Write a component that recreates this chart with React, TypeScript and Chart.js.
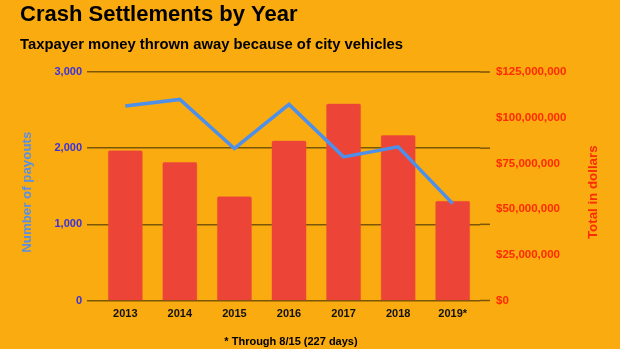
import React, { useEffect, useRef } from "react";
import { Chart, registerables } from "chart.js";

Chart.register(...registerables);

const categories = ["2013", "2014", "2015", "2016", "2017", "2018", "2019*"];
const payouts = [2553, 2640, 1996, 2575, 1886, 2018, 1272];
const dollars = [82200000, 75800000, 57000000, 87500000, 107800000, 90500000, 54500000];
const leftTicks = [0, 1000, 2000, 3000];
const rightTicks = [0, 25000000, 50000000, 75000000, 100000000, 125000000];

const titleText = "Crash Settlements by Year";
const subtitleText = "Taxpayer money thrown away because of city vehicles";
const footnoteText = "* Through 8/15 (227 days)";
const leftTitle = "Number of payouts";
const rightTitle = "Total in dollars";

const FONT = "'Liberation Sans', Arial, sans-serif";
const BG = "#F9AB10";
const GRID = "#7a5608";

const decorPlugin = {
  id: "decor",
  beforeDraw(chart: any) {
    const { ctx, width, height } = chart;
    ctx.save();
    ctx.fillStyle = BG;
    ctx.fillRect(0, 0, width, height);
    ctx.restore();
  },
  beforeDatasetsDraw(chart: any) {
    const { ctx, chartArea } = chart;
    const y = chart.scales.y;
    ctx.save();
    ctx.strokeStyle = GRID;
    ctx.lineWidth = 1.5;
    y.ticks.forEach((t: any) => {
      const py = y.getPixelForValue(t.value);
      ctx.beginPath();
      ctx.moveTo(chartArea.right, py);
      ctx.lineTo(chartArea.right + 10, py);
      ctx.stroke();
    });
    ctx.restore();
  },
  afterDraw(chart: any) {
    const { ctx, chartArea } = chart;
    const yl = chart.scales.y;
    const yr = chart.scales.y1;
    ctx.save();
    ctx.fillStyle = "#000";
    ctx.textAlign = "left";
    ctx.textBaseline = "alphabetic";
    ctx.font = `bold 22px ${FONT}`;
    ctx.fillText(titleText, 20, 21);
    ctx.font = `bold 14.8px ${FONT}`;
    ctx.fillText(subtitleText, 20, 49);
    ctx.font = `bold 11px ${FONT}`;
    ctx.textAlign = "center";
    ctx.fillText(footnoteText, (chartArea.left + chartArea.right) / 2 + 2, 345);

    const cy = (chartArea.top + chartArea.bottom) / 2 + 6;
    ctx.font = `bold 13.3px ${FONT}`;
    ctx.textBaseline = "middle";
    ctx.fillStyle = "#5b8fe3";
    ctx.save();
    ctx.translate(yl.left + 27, cy);
    ctx.rotate(-Math.PI / 2);
    ctx.fillText(leftTitle, 0, 0);
    ctx.restore();
    ctx.fillStyle = "#ff2a00";
    ctx.save();
    ctx.translate(yr.left + 113, cy);
    ctx.rotate(-Math.PI / 2);
    ctx.fillText(rightTitle, 0, 0);
    ctx.restore();
    ctx.restore();
  },
};

export default function App() {
  const ref = useRef<HTMLCanvasElement>(null);
  useEffect(() => {
    document.body.style.margin = "0";
    const chart = new Chart(ref.current!, {
      type: "bar",
      data: {
        labels: categories,
        datasets: [
          {
            type: "line",
            label: "Number of payouts",
            data: payouts,
            yAxisID: "y",
            borderColor: "#4e8fea",
            borderWidth: 3.5,
            pointRadius: 0,
            tension: 0,
            order: 0,
          } as any,
          {
            type: "bar",
            label: "Total in dollars",
            data: dollars,
            yAxisID: "y1",
            backgroundColor: "#EC4537",
            borderColor: "#f0583a",
            borderWidth: 0.5,
            borderRadius: 2,
            borderSkipped: "bottom",
            barPercentage: 0.642,
            categoryPercentage: 1,
            order: 1,
          },
        ],
      },
      options: {
        animation: false,
        responsive: false,
        maintainAspectRatio: false,
        layout: { padding: { top: 72, left: 0, right: 0, bottom: 0 } },
        plugins: {
          legend: { display: false },
          tooltip: { enabled: false },
          title: { display: false },
        },
        scales: {
          x: {
            offset: true,
            grid: { display: false, drawTicks: false },
            border: { display: false },
            ticks: {
              color: "#111",
              font: { family: FONT, size: 11, weight: "bold" },
              padding: 7,
              maxRotation: 0,
            },
            afterFit(scale: any) {
              scale.height = 48.5;
            },
          },
          y: {
            position: "left",
            min: 0,
            max: 3000,
            afterBuildTicks(scale: any) {
              scale.ticks = leftTicks.map((v) => ({ value: v }));
            },
            grid: {
              color: GRID,
              lineWidth: 1.5,
              drawTicks: true,
              tickLength: 11,
              tickColor: GRID,
            },
            border: { display: false },
            ticks: {
              color: "#3a30e0",
              font: { family: FONT, size: 11, weight: "bold" },
              padding: 5,
              callback: (v: any) => Number(v).toLocaleString("en-US"),
            },
            afterFit(scale: any) {
              scale.width = 98;
            },
          },
          y1: {
            position: "right",
            min: 0,
            max: 125000000,
            afterBuildTicks(scale: any) {
              scale.ticks = rightTicks.map((v) => ({ value: v }));
            },
            grid: { display: false, drawTicks: false },
            border: { display: false },
            ticks: {
              color: "#ff2a00",
              font: { family: FONT, size: 11.5, weight: "bold" },
              padding: 16,
              callback: (v: any) => "$" + Number(v).toLocaleString("en-US"),
            },
            afterFit(scale: any) {
              scale.width = 140;
            },
          },
        },
      },
      plugins: [decorPlugin],
    });
    return () => chart.destroy();
  }, []);
  return (
    <div style={{ width: 620, height: 349 }}>
      <canvas ref={ref} width={620} height={349} style={{ display: "block" }} />
    </div>
  );
}
